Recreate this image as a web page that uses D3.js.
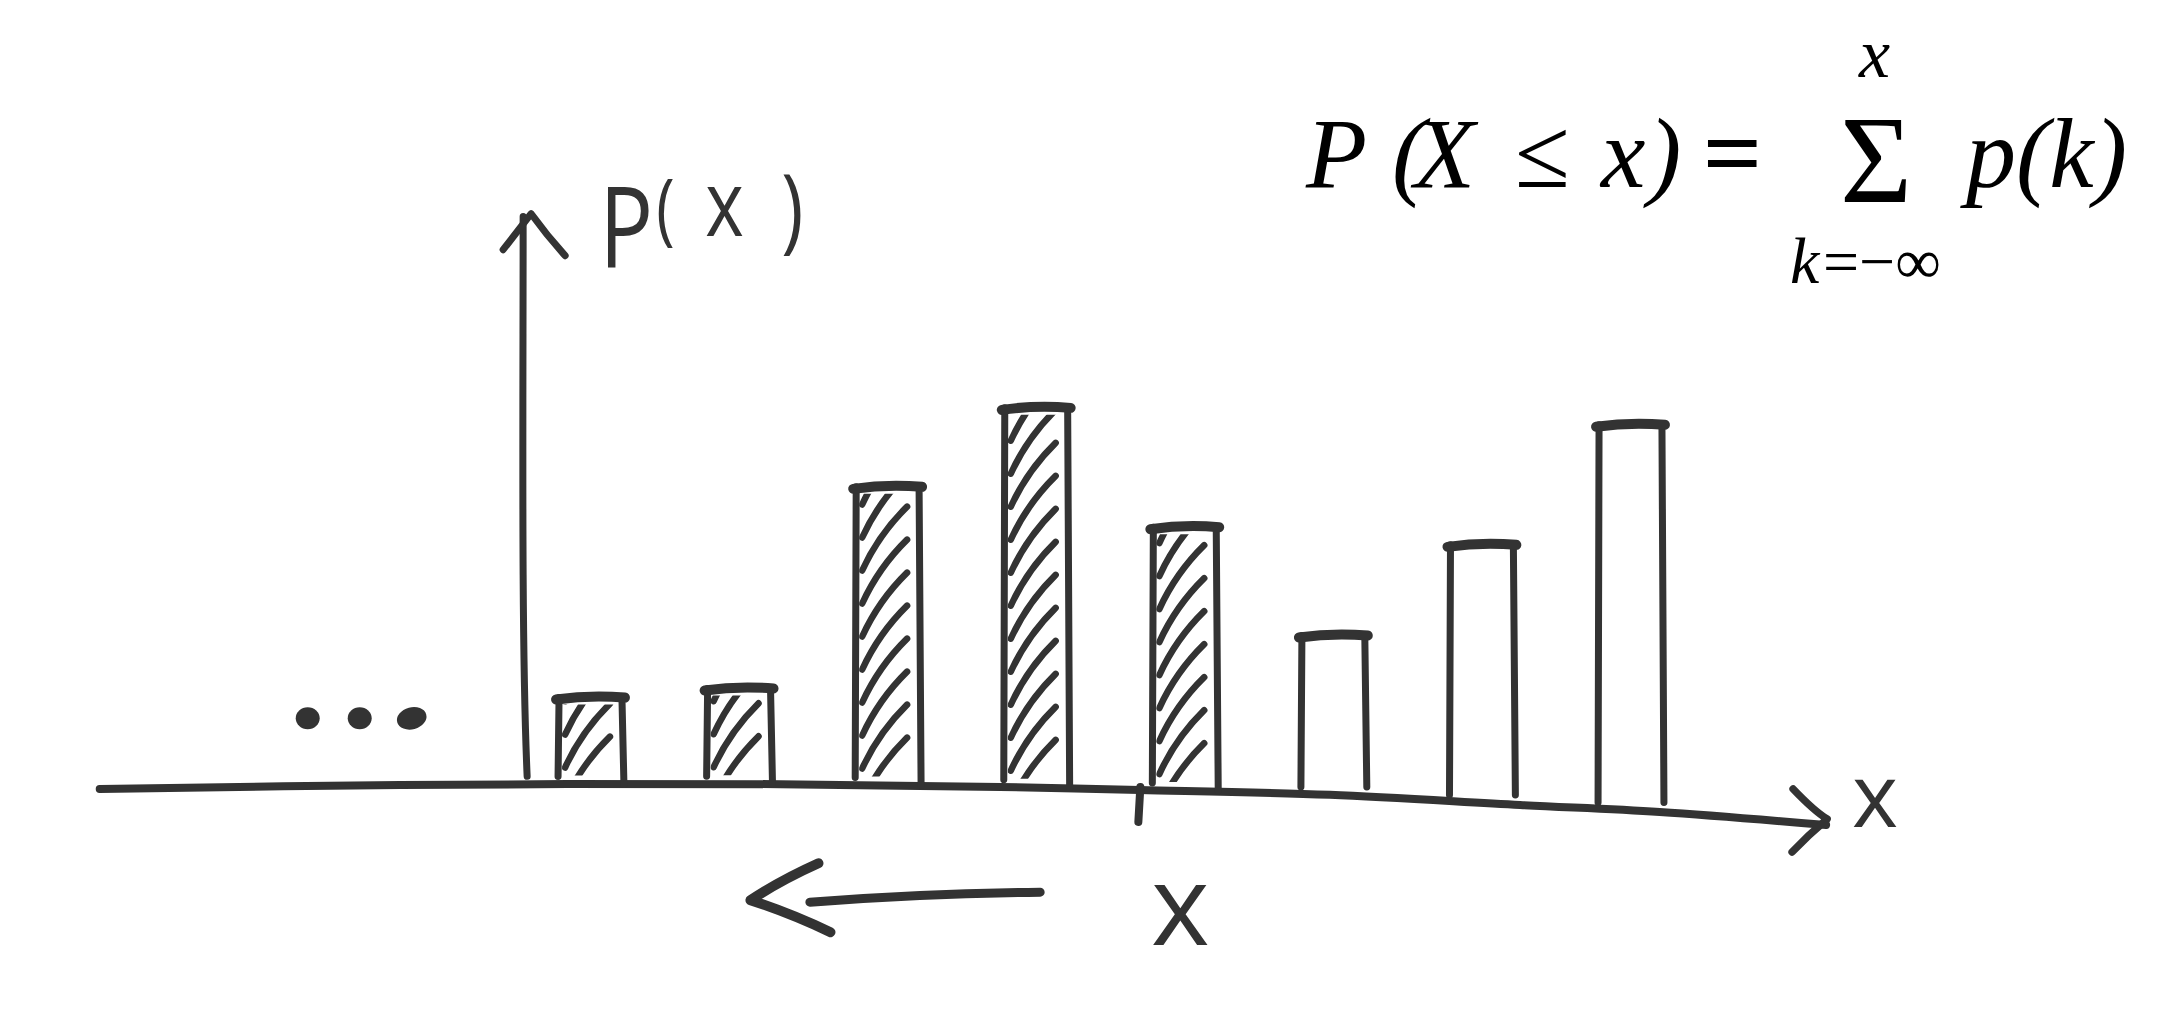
<!DOCTYPE html>
<html>
<head>
<meta charset="utf-8">
<script src="https://cdn.jsdelivr.net/npm/d3@7"></script>
<style>
  html, body { margin: 0; padding: 0; background: #ffffff; overflow: hidden; }
  svg { display: block; }
</style>
</head>
<body>
<svg id="chart" width="2170" height="1014"></svg>
<script>
// ---------------- data ----------------
const outcomes = [0, 1, 2, 3, 4, 5, 6, 7];                 // discrete outcomes k (x sits at k = 4)
const probs    = [0.030, 0.033, 0.103, 0.131, 0.091, 0.055, 0.089, 0.133]; // p(k), bar heights
const inSum    = [true, true, true, true, true, false, false, false];     // k <= x → hatched
const markerK  = 4;                                          // the value x on the axis
const axisK    = [-3.3, -1.28, 1.28, 2.76, 3.70, 4.98, 6.26, 7.20, 8.32]; // hand-drawn x axis sag
const axisSag  = [-0.0014, 0, 0.0003, -0.0007, -0.0017, -0.0034, -0.0069, -0.0093, -0.0138];
const dotsK    = [-1.9, -1.55, -1.2];                        // "..." continuing to -infinity
const yAxisLabel = ["P", "(", "x", ")"];
const xAxisLabel = "x";
const markerLabel = "x";

// ---------------- setup ----------------
const ink = "#333333";
const svg = d3.select("#chart");

const x = d3.scaleLinear().domain([0, 7]).range([590, 1630]);
const y = d3.scaleLinear().domain([0, 0.2]).range([785, 205]);
const base = d3.scaleLinear().domain(axisK).range(axisSag); // piecewise axis drift
const step = x(1) - x(0);
const barW = step * 0.43;

const g = svg.append("g")
  .attr("fill", "none")
  .attr("stroke", ink)
  .attr("stroke-linecap", "round")
  .attr("stroke-linejoin", "round");

// ---------------- x axis ----------------
const axisLine = d3.line().x(d => x(d[0])).y(d => y(d[1])).curve(d3.curveCatmullRom);
g.append("path")
  .attr("d", axisLine(axisK.map((k, i) => [k, axisSag[i]])))
  .attr("stroke-width", 8);

const xEnd = [x(axisK[axisK.length - 1]), y(axisSag[axisSag.length - 1])];
g.append("path")
  .attr("d", `M${xEnd[0] - 33},${xEnd[1] - 36} Q${xEnd[0] - 12},${xEnd[1] - 14} ${xEnd[0] + 1},${xEnd[1] - 6} Q${xEnd[0] - 18},${xEnd[1] + 10} ${xEnd[0] - 34},${xEnd[1] + 27}`)
  .attr("stroke-width", 7.5);

// tick at x
const tickX = x(markerK) - barW / 2 - 12;
const tickB = y(base(markerK));
g.append("line")
  .attr("x1", tickX).attr("y1", tickB - 4)
  .attr("x2", tickX - 2).attr("y2", tickB + 31)
  .attr("stroke-width", 8);

// ---------------- y axis ----------------
const yAxisK = -0.45;
const yx = x(yAxisK);
g.append("path")
  .attr("d", `M${yx + 4},${y(0.003)} C${yx - 2},${y(0.05)} ${yx},${y(0.13)} ${yx},${y(0.196)}`)
  .attr("stroke-width", 7);
const tip = [yx + 8, y(0.197)];
g.append("path")
  .attr("d", `M${tip[0] - 28},${tip[1] + 36} L${tip[0]},${tip[1]} Q${tip[0] + 16},${tip[1] + 22} ${tip[0] + 34},${tip[1] + 42}`)
  .attr("stroke-width", 7);

// ---------------- bars ----------------
const bars = outcomes.map((k, i) => {
  const cx = x(k);
  const yb = y(base(k));
  const yt = y(base(k) + probs[i]);
  return { k, i, xl: cx - barW / 2, xr: cx + barW / 2, yb, yt, hatched: inSum[i] };
});

const defs = svg.append("defs");
bars.filter(b => b.hatched).forEach(b => {
  defs.append("clipPath").attr("id", "clip" + b.i)
    .append("rect")
    .attr("x", b.xl + 4).attr("y", b.yt + 7)
    .attr("width", b.xr - b.xl - 10).attr("height", b.yb - b.yt - 16);
});

// hatching (strokes of the cumulative sum)
bars.filter(b => b.hatched).forEach(b => {
  const w = b.xr - b.xl;
  const rise = w * 1.0;
  const hg = g.append("g").attr("clip-path", `url(#clip${b.i})`).attr("stroke-width", 6.5);
  const lines = d3.range(b.yb + rise * 0.25, b.yt - 4, -33);
  hg.selectAll("path").data(lines).join("path")
    .attr("d", yy => {
      const x0 = b.xl + 7, y0 = yy, x1 = b.xr - 12, y1 = yy - rise;
      const mx = (x0 + x1) / 2 - 6, my = (y0 + y1) / 2 - 4;
      return `M${x0},${y0} Q${mx},${my} ${x1},${y1}`;
    });
});

// bar outlines (three sides, standing on the axis)
g.selectAll("path.bar").data(bars).join("path")
  .attr("class", "bar")
  .attr("stroke-width", 7)
  .attr("d", b => `M${b.xl},${b.yb - 8} L${b.xl + 1},${b.yt} M${b.xr},${b.yt} L${b.xr + 2},${b.yb - (b.hatched ? 0 : 8)}`);
g.selectAll("path.top").data(bars).join("path")
  .attr("class", "top")
  .attr("stroke-width", 10)
  .attr("d", b => `M${b.xl - 2},${b.yt + 2} Q${(b.xl + b.xr) / 2},${b.yt - 3} ${b.xr + 3},${b.yt}`);

// ---------------- "..." ----------------
svg.selectAll("ellipse.dot").data(dotsK).join("ellipse")
  .attr("class", "dot")
  .attr("cx", d => x(d)).attr("cy", y(0.023))
  .attr("rx", (d, i) => i === 2 ? 15 : 12)
  .attr("ry", 11)
  .attr("transform", (d, i) => i === 2 ? `rotate(-15 ${x(d)} ${y(0.023)})` : null)
  .attr("fill", ink);

// ---------------- left arrow below axis ----------------
const aY = y(-0.038);
const aStart = x(3.03), aTail = x(1.48), aTip = x(1.08);
g.append("path")
  .attr("d", `M${aStart},${aY - 3} Q${(aStart + aTail) / 2},${aY - 2} ${aTail},${aY + 7}`)
  .attr("stroke-width", 9);
g.append("path")
  .attr("d", `M${aTip + 68},${aY - 32} Q${aTip + 30},${aY - 15} ${aTip},${aY + 5} Q${aTip + 40},${aY + 18} ${aTip + 80},${aY + 37}`)
  .attr("stroke-width", 10);

// ---------------- labels ----------------
const hand = "'Open Sans', 'DejaVu Sans', sans-serif";
const sx = 0.8;
const yl = svg.append("text")
  .attr("transform", `translate(${yx + 76},0) scale(${sx},1)`)
  .attr("font-family", hand)
  .attr("fill", ink);
const ylX = [0, (655 - 598) / sx, (704 - 598) / sx, (780 - 598) / sx];
const ylY = [267, 236, 236, 241];
const ylS = [112, 78, 92, 94];
yAxisLabel.forEach((c, i) => {
  yl.append("tspan").attr("x", ylX[i]).attr("y", ylY[i]).attr("font-size", ylS[i]).text(c);
});

svg.append("text")
  .attr("x", xEnd[0] + 49).attr("y", xEnd[1] + 2)
  .attr("text-anchor", "middle")
  .attr("font-family", hand).attr("font-size", 88).attr("fill", ink)
  .text(xAxisLabel);

svg.append("text")
  .attr("x", x(markerK) - 4).attr("y", 945)
  .attr("text-anchor", "middle")
  .attr("font-family", hand).attr("font-size", 112).attr("fill", ink)
  .text(markerLabel);

// ---------------- formula ----------------
const serif = "'Liberation Serif', 'DejaVu Serif', serif";
const formula = svg.append("text").attr("font-family", serif).attr("fill", "#000");
const put = (txt, px, py, size, italic) => formula.append("tspan")
  .attr("x", px).attr("y", py).attr("font-size", size)
  .attr("font-style", italic ? "italic" : "normal").text(txt);
put("P", 1306, 187, 100, true);
put("(X", "1392 1414", 187, 100, true);
put("\u2264", 1515, 187, 100, false);
put("x)", "1601 1648", 187, 100, true);
put("=", 1704, 187, 100, false).attr("stroke", "#000").attr("stroke-width", 2);
put("\u03A3", 1840, 202, 124, false);
put("x", 1859, 77, 70, true);
put("k", 1790, 283, 66, true);
put("=\u2212\u221E", 1823, 283, 64, false);
put("p(k)", 1966, 187, 100, true);
</script>
</body>
</html>
